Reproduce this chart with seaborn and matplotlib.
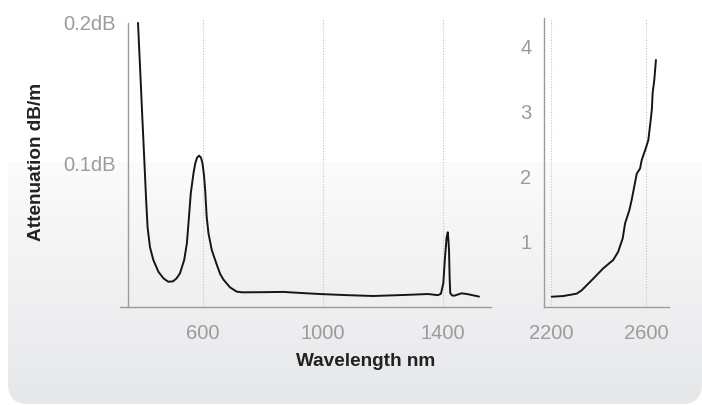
import numpy as np
import matplotlib
matplotlib.use("Agg")
import matplotlib.pyplot as plt
from matplotlib.patches import FancyBboxPatch
import seaborn as sns

# dados lidos do gráfico
# painel esquerdo: 383 - 1520 nm (dB/m)
wl_left = [383, 390, 397, 404, 410, 415, 423, 434, 451, 468, 484, 500, 512, 523,
           537, 546, 553, 559, 568, 574, 580, 587, 593, 598, 603, 607, 612, 618,
           629, 646, 657, 668, 690, 712, 730, 800, 867, 930, 990, 1080, 1167, 1280,
           1350, 1383, 1393, 1401, 1406, 1412, 1416, 1418, 1420, 1422, 1424, 1430,
           1437, 1450, 1462, 1480, 1520]
att_left = [0.200, 0.168, 0.135, 0.103, 0.075, 0.055, 0.041, 0.032, 0.0236, 0.0189,
            0.0165, 0.0168, 0.0190, 0.0225, 0.0319, 0.0437, 0.0626, 0.0792, 0.0934,
            0.1005, 0.1045, 0.1059, 0.1045, 0.1005, 0.0920, 0.0816, 0.0626, 0.0508,
            0.0390, 0.0284, 0.0220, 0.0180, 0.0125, 0.0095, 0.0090, 0.0091, 0.0093,
            0.0085, 0.0078, 0.0070, 0.0064, 0.0072, 0.0078, 0.0070, 0.0080, 0.0154,
            0.0320, 0.0480, 0.0516, 0.0460, 0.0390, 0.0200, 0.0085, 0.0068, 0.0066,
            0.0075, 0.0083, 0.0078, 0.0060]

# painel direito: 2200 - 2640 nm
wl_right = [2203, 2252, 2308, 2329, 2378, 2420, 2462, 2483, 2502, 2512, 2530, 2540,
            2561, 2575, 2582, 2600, 2610, 2620, 2625, 2628, 2635, 2642]
att_right = [0.158, 0.169, 0.205, 0.256, 0.436, 0.595, 0.723, 0.851, 1.056, 1.287,
             1.49, 1.65, 2.05, 2.13, 2.26, 2.45, 2.57, 2.88, 3.05, 3.29, 3.49, 3.80]

left_ticks = [600, 1000, 1400]
left_yticks = [0.1, 0.2]
left_ylabels = ['0.1dB', '0.2dB']
right_ticks = [2200, 2600]
right_yticks = [1, 2, 3, 4]

sns.set_style("white")
plt.rcParams['font.family'] = ['Liberation Sans', 'DejaVu Sans']

W, H = 702, 405
fig = plt.figure(figsize=(W / 100, H / 100), dpi=100)

# fundo com degradê e cantos arredondados (só embaixo)
bg = fig.add_axes([0, 0, 1, 1], zorder=-5)
bg.set_xlim(0, W)
bg.set_ylim(H, 0)
bg.axis('off')
top_c = np.array([0xfb, 0xfb, 0xfb]) / 255
bot_c = np.array([0xe6, 0xe7, 0xe9]) / 255
t = np.linspace(0, 1, 200)[:, None, None]
grad = top_c * (1 - t) + bot_c * t
box = FancyBboxPatch((8, 120), 694, 284, boxstyle="round,pad=0,rounding_size=20",
                     transform=bg.transData, facecolor='none', edgecolor='none')
bg.add_patch(box)
im = bg.imshow(grad, extent=(8, 702, 404, 162), aspect='auto', interpolation='bilinear')
im.set_clip_path(box)

gray = '#9b9b9b'
ax1 = fig.add_axes([120 / W, 1 - 307 / H, 371 / W, 289 / H])
ax2 = fig.add_axes([544 / W, 1 - 307 / H, 125 / W, 289 / H])

sns.lineplot(x=wl_left, y=att_left, ax=ax1, color='#151515', linewidth=1.4)
sns.lineplot(x=wl_right, y=att_right, ax=ax2, color='#151515', linewidth=1.4)

ax1.set_xlim(323, 1560)
ax1.set_ylim(-0.0014, 0.2035)
ax2.set_xlim(2170.5, 2697)
ax2.set_ylim(0, 4.446)

ax1.set_xticks(left_ticks)
ax1.set_yticks(left_yticks)
ax1.set_yticklabels(left_ylabels)
ax2.set_xticks(right_ticks)
ax2.set_yticks(right_yticks)

for ax in (ax1, ax2):
    ax.patch.set_alpha(0)
    for s in ('top', 'right'):
        ax.spines[s].set_visible(False)
    for s in ('left', 'bottom'):
        ax.spines[s].set_color(gray)
        ax.spines[s].set_linewidth(1.0)
    ax.tick_params(axis='both', colors=gray, length=7.5, width=1.0, labelsize=14.5)
    ax.tick_params(axis='y', pad=1.5)
    ax.tick_params(axis='x', pad=4.5)
    ax.grid(axis='x', linestyle=(0, (1, 1.5)), color='#c4c4c4', linewidth=0.8)
    ax.set_xlabel('')
    ax.set_ylabel('')

ax1.spines['left'].set_position(('data', 350))
ax1.spines['left'].set_bounds(-0.0014, 0.2)

fig.text(366 / W, 1 - 361 / H, 'Wavelength nm', ha='center', va='center',
         fontsize=13.7, fontweight='bold', color='#222222')
fig.text(37 / W, 1 - 162 / H, 'Attenuation dB/m', ha='center', va='center',
         rotation=90, fontsize=13.7, fontweight='bold', color='#222222')

fig.savefig('out.png', dpi=100)
